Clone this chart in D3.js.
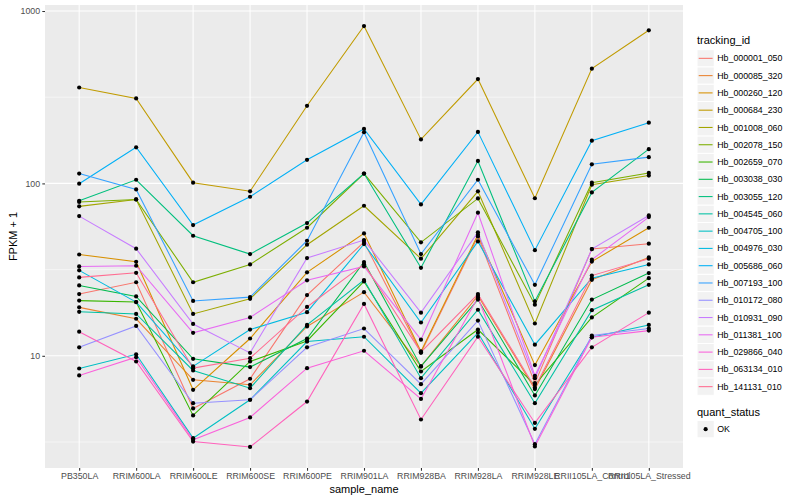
<!DOCTYPE html>
<html>
<head>
<meta charset="utf-8">
<script src="https://cdn.jsdelivr.net/npm/d3@7"></script>
<style>
  body { margin: 0; background: #fff; }
  text { font-family: "Liberation Sans", Arial, sans-serif; }
</style>
</head>
<body>
<script>
// sample names on the x axis
var samples = ["PB350LA", "RRIM600LA", "RRIM600LE", "RRIM600SE", "RRIM600PE", "RRIM901LA",
               "RRIM928BA", "RRIM928LA", "RRIM928LE", "RRII105LA_Control", "RRII105LA_Stressed"];

// FPKM + 1 per gene, one value per sample
var hb_000001_050 = [22.8, 26.7, 4.95, 7.36, 22.5, 45.7, 10.4, 49.2, 6.94, 41.6, 44.7];
var hb_000085_320 = [19.1, 16.4, 7.26, 6.79, 14.8, 23.4, 8.68, 22.3, 6.41, 27.6, 37.2];
var hb_000260_120 = [38.7, 35.1, 6.35, 12.6, 30.5, 51.3, 10.6, 50.4, 8.83, 35.2, 55.3];
var hb_000684_230 = [360, 311, 101, 90, 282, 818, 180, 403, 82, 463, 773];
var hb_001008_060 = [73.6, 80.7, 17.5, 21.4, 44.1, 74.2, 36.6, 90, 15.4, 98.2, 111];
var hb_002078_150 = [78, 80.7, 26.7, 33.9, 55.3, 114, 45.5, 81.8, 19.8, 101, 115];
var hb_002659_070 = [20.9, 20.5, 4.51, 9.27, 12.2, 27, 8.11, 14.2, 6.79, 16.7, 28.2];
var hb_003038_030 = [25.6, 22.1, 9.61, 8.6, 12.6, 35, 8.68, 21.2, 5.89, 21.2, 30.2];
var hb_003055_120 = [79.3, 105, 49.7, 38.9, 58.9, 114, 32.4, 135, 20.7, 88.7, 158];
var hb_004545_060 = [18, 17.5, 8.22, 6.49, 15.1, 27.5, 7.42, 18.5, 5.31, 18.4, 25.8];
var hb_004705_100 = [8.44, 10.2, 3.33, 5.56, 12.1, 12.9, 6.07, 13.6, 3.77, 12.8, 15.1];
var hb_004976_030 = [31.3, 20.5, 8.68, 14.2, 17.9, 44.5, 15.6, 46.1, 11.6, 28.2, 33.9];
var hb_005686_060 = [99.6, 162, 57.3, 83.7, 137, 207, 75.5, 199, 41, 177, 225];
var hb_007193_100 = [114, 92.3, 20.8, 21.9, 46.5, 198, 38.9, 105, 25.8, 129, 142];
var hb_010172_080 = [11.2, 14.9, 5.31, 5.56, 11.2, 14.4, 6.85, 16, 3.07, 13.1, 14.4];
var hb_010931_090 = [64.6, 41.8, 15.3, 10.4, 36.9, 46.9, 17.8, 52, 7.42, 41.6, 65.2];
var hb_011381_100 = [33, 33.3, 13.6, 16.7, 27.4, 33, 12.4, 67.6, 7.66, 36.1, 63.8];
var hb_029866_040 = [7.69, 9.82, 3.26, 4.39, 8.48, 10.7, 5.62, 21.8, 2.98, 12.8, 14];
var hb_063134_010 = [13.8, 9.27, 3.18, 2.96, 5.43, 20, 4.27, 12.9, 4.08, 11.2, 17.8];
var hb_141131_010 = [28.5, 30.3, 8.48, 9.69, 19.2, 34, 10.5, 22.8, 6.55, 29.2, 36.6];

var trackingIds = ["Hb_000001_050", "Hb_000085_320", "Hb_000260_120", "Hb_000684_230", "Hb_001008_060",
                   "Hb_002078_150", "Hb_002659_070", "Hb_003038_030", "Hb_003055_120", "Hb_004545_060",
                   "Hb_004705_100", "Hb_004976_030", "Hb_005686_060", "Hb_007193_100", "Hb_010172_080",
                   "Hb_010931_090", "Hb_011381_100", "Hb_029866_040", "Hb_063134_010", "Hb_141131_010"];
var seriesValues = [hb_000001_050, hb_000085_320, hb_000260_120, hb_000684_230, hb_001008_060,
                    hb_002078_150, hb_002659_070, hb_003038_030, hb_003055_120, hb_004545_060,
                    hb_004705_100, hb_004976_030, hb_005686_060, hb_007193_100, hb_010172_080,
                    hb_010931_090, hb_011381_100, hb_029866_040, hb_063134_010, hb_141131_010];

var yTicks = [10, 100, 1000];
var yMinor = [Math.pow(10, 0.5), Math.pow(10, 1.5), Math.pow(10, 2.5)];

// ggplot default hue palette, 20 levels
var palette = ["#F8766D", "#EA8331", "#D89000", "#C09B00", "#A3A500", "#7CAE00", "#39B600", "#00BB4E",
               "#00BF7D", "#00C1A3", "#00BFC4", "#00BAE0", "#00B0F6", "#35A2FF", "#9590FF", "#C77CFF",
               "#E76BF3", "#FA62DB", "#FF62BC", "#FF6C91"];

(function(){
  var w = 800, h = 500;
  var pLeft = 45, pRight = 683, pTop = 5, pBottom = 468;

  var svg = d3.select("body").append("svg")
    .attr("width", w)
    .attr("height", h);

  var x = d3.scalePoint().domain(samples).range([pLeft, pRight]).padding(0.6);

  var allVals = d3.merge(seriesValues);
  var lo = Math.log10(d3.min(allVals)), hi = Math.log10(d3.max(allVals));
  var pad = (hi - lo) * 0.05;
  var y = d3.scaleLog()
    .domain([Math.pow(10, lo - pad), Math.pow(10, hi + pad)])
    .range([pBottom, pTop]);

  // panel
  svg.append("rect")
    .attr("x", pLeft).attr("y", pTop)
    .attr("width", pRight - pLeft).attr("height", pBottom - pTop)
    .style("fill", "#EBEBEB");

  // grid
  svg.selectAll(".minor").data(yMinor).enter().append("line")
    .attr("x1", pLeft).attr("x2", pRight)
    .attr("y1", function(d){ return y(d); }).attr("y2", function(d){ return y(d); })
    .style("stroke", "#fff").style("stroke-width", 0.53);
  svg.selectAll(".majorY").data(yTicks).enter().append("line")
    .attr("x1", pLeft).attr("x2", pRight)
    .attr("y1", function(d){ return y(d); }).attr("y2", function(d){ return y(d); })
    .style("stroke", "#fff").style("stroke-width", 1.07);
  svg.selectAll(".majorX").data(samples).enter().append("line")
    .attr("x1", function(d){ return x(d); }).attr("x2", function(d){ return x(d); })
    .attr("y1", pTop).attr("y2", pBottom)
    .style("stroke", "#fff").style("stroke-width", 1.07);

  // lines
  var line = d3.line()
    .x(function(d, i){ return x(samples[i]); })
    .y(function(d){ return y(d); });

  svg.selectAll(".series").data(seriesValues).enter().append("path")
    .attr("d", line)
    .style("fill", "none")
    .style("stroke", function(d, i){ return palette[i]; })
    .style("stroke-width", 1.07);

  // points
  seriesValues.forEach(function(vals){
    svg.selectAll(null).data(vals).enter().append("circle")
      .attr("cx", function(d, i){ return x(samples[i]); })
      .attr("cy", function(d){ return y(d); })
      .attr("r", 2.1)
      .style("fill", "#000");
  });

  // axes
  var yAxis = svg.append("g")
    .attr("transform", "translate(" + pLeft + ",0)")
    .call(d3.axisLeft(y).tickValues(yTicks).tickFormat(d3.format("d")).tickSize(2.7).tickPadding(2.2));
  var xAxis = svg.append("g")
    .attr("transform", "translate(0," + pBottom + ")")
    .call(d3.axisBottom(x).tickSize(2.7).tickPadding(2.2));
  [yAxis, xAxis].forEach(function(a){
    a.select(".domain").remove();
    a.selectAll(".tick line").style("stroke", "#333").style("stroke-width", 1.07);
    a.selectAll(".tick text").style("fill", "#4D4D4D").style("font-size", "8.8px")
      .style("font-family", "'Liberation Sans', Arial, sans-serif");
  });

  svg.append("text")
    .attr("x", (pLeft + pRight) / 2).attr("y", 493)
    .attr("text-anchor", "middle")
    .style("font-size", "11px")
    .text("sample_name");
  svg.append("text")
    .attr("transform", "translate(17," + ((pTop + pBottom) / 2) + ") rotate(-90)")
    .attr("text-anchor", "middle")
    .style("font-size", "11px")
    .text("FPKM + 1");

  // legend: tracking_id
  var lgX = 697, key = 17.28, firstKey = 49.7;
  svg.append("text").attr("x", lgX).attr("y", 44).style("font-size", "11px").text("tracking_id");
  var lg = svg.selectAll(".lg").data(trackingIds).enter().append("g")
    .attr("transform", function(d, i){ return "translate(" + lgX + "," + (firstKey + i * key) + ")"; });
  lg.append("rect").attr("width", key).attr("height", key)
    .style("fill", "#F2F2F2").style("stroke", "#fff").style("stroke-width", 1);
  lg.append("line").attr("x1", 1.7).attr("x2", key - 1.7)
    .attr("y1", key / 2).attr("y2", key / 2)
    .style("stroke", function(d, i){ return palette[i]; }).style("stroke-width", 1.07);
  lg.append("text").attr("x", key + 3).attr("y", key / 2).attr("dy", "0.35em")
    .style("font-size", "8.8px").text(function(d){ return d; });

  // legend: quant_status
  svg.append("text").attr("x", lgX).attr("y", 416).style("font-size", "11px").text("quant_status");
  svg.append("rect").attr("x", lgX).attr("y", 420.5).attr("width", key).attr("height", key)
    .style("fill", "#F2F2F2").style("stroke", "#fff");
  svg.append("circle").attr("cx", lgX + key / 2).attr("cy", 420.5 + key / 2).attr("r", 2.1).style("fill", "#000");
  svg.append("text").attr("x", lgX + key + 3).attr("y", 420.5 + key / 2).attr("dy", "0.35em")
    .style("font-size", "8.8px").text("OK");
})();
</script>
</body>
</html>
